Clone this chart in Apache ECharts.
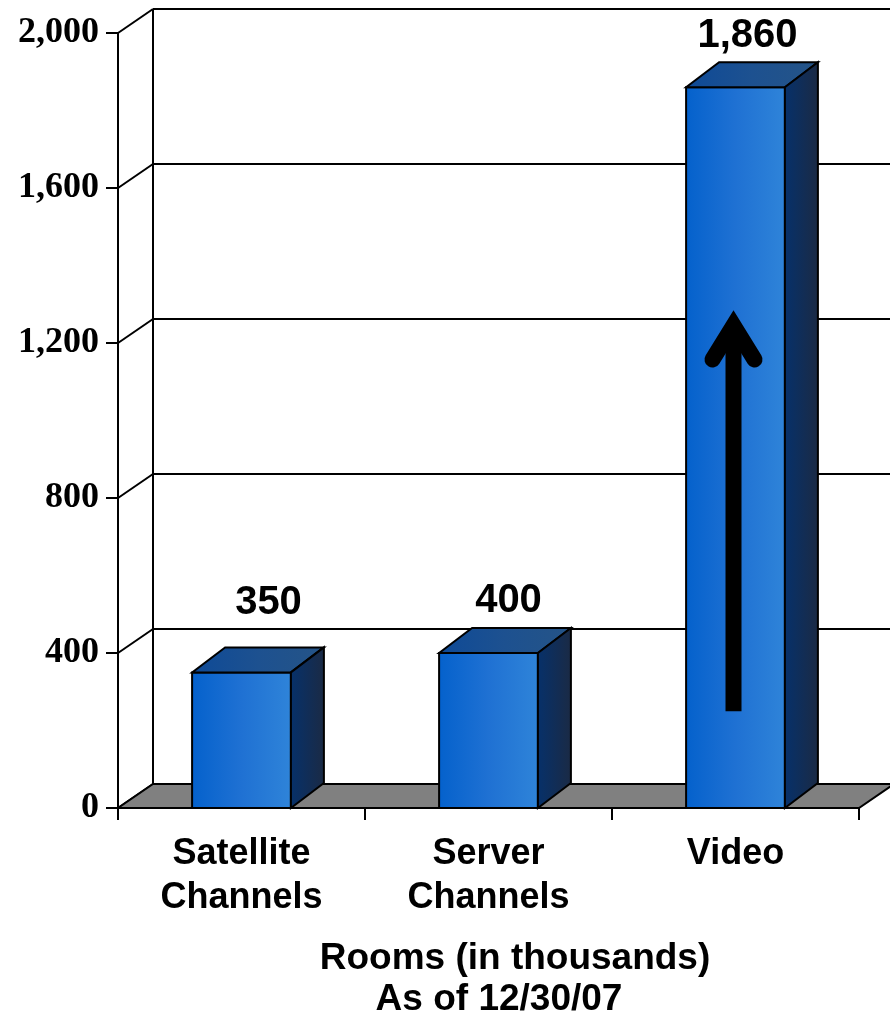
<!DOCTYPE html>
<html>
<head>
<meta charset="utf-8">
<script src="https://cdn.jsdelivr.net/npm/echarts@6/dist/echarts.min.js"></script>
<style>
  html, body { margin: 0; padding: 0; background: #ffffff; }
  #chart { width: 890px; height: 1016px; }
</style>
</head>
<body>
<div id="chart"></div>
<script>
// Rooms (in thousands) by channel, as of 12/30/07
const categories = ['Satellite\nChannels', 'Server\nChannels', 'Video'];
const rooms = [350, 400, 1860];
const valueLabels = ['350', '400', '1,860'];
const yTicks = [0, 400, 800, 1200, 1600, 2000];
// growth arrow drawn inside the Video column: [category index, from, to]
const arrowSpan = [2, 250, 1245];

// drawing constants
const FONT_SANS = '"Liberation Sans", Arial, sans-serif';
const FONT_SERIF = '"Liberation Serif", "Times New Roman", serif';
const WALL_DX = 35, WALL_DY = -24;   // depth of back wall / floor
const BAR_DX = 33, BAR_DY = -25;     // depth of the columns
const BAR_RATIO = 0.4;               // column width as share of category band
const LABEL_NUDGE = [[7, -16], [0, 1], [-8, 2]];

const grad = (c1, c2, c3) => ({
  type: 'linear', x: 0, y: 0, x2: 1, y2: 0,
  colorStops: c3
    ? [{ offset: 0, color: c1 }, { offset: 0.5, color: c2 }, { offset: 1, color: c3 }]
    : [{ offset: 0, color: c1 }, { offset: 1, color: c2 }]
});
const FRONT_FILL = grad('#0461CC', '#1F71D3', '#2F84D9');
const TOP_FILL = grad('#0E4A97', '#1D5190', '#255487');
const SIDE_FILL = grad('#06316B', '#1B2A44');
const EDGE = { stroke: '#000000', lineWidth: 2 };

const chart = echarts.init(document.getElementById('chart'), null, { renderer: 'canvas' });

function renderWalls(params, api) {
  const cs = params.coordSys;
  const x0 = cs.x, x1 = cs.x + cs.width;
  const yOf = v => api.coord([0, v])[1];
  const children = [];
  const yMax = yTicks[yTicks.length - 1];
  // back wall left edge
  children.push({
    type: 'line',
    shape: { x1: x0 + WALL_DX, y1: yOf(0) + WALL_DY, x2: x0 + WALL_DX, y2: yOf(yMax) + WALL_DY },
    style: EDGE
  });
  yTicks.forEach(v => {
    const y = yOf(v);
    children.push({
      type: 'line',
      shape: { x1: x0, y1: y, x2: x0 + WALL_DX, y2: y + WALL_DY },
      style: EDGE
    });
    children.push({
      type: 'line',
      shape: { x1: x0 + WALL_DX, y1: y + WALL_DY, x2: x1 + WALL_DX, y2: y + WALL_DY },
      style: EDGE
    });
  });
  // floor
  const yb = yOf(0);
  children.push({
    type: 'polygon',
    shape: { points: [[x0, yb], [x1, yb], [x1 + WALL_DX, yb + WALL_DY], [x0 + WALL_DX, yb + WALL_DY]] },
    style: { fill: '#808080', stroke: '#000000', lineWidth: 2 }
  });
  return { type: 'group', children };
}

function renderBar(params, api) {
  const idx = params.dataIndex;
  const cat = api.value(0);
  const v = api.value(1);
  const base = api.coord([cat, 0]);
  const top = api.coord([cat, v]);
  const band = api.size([1, 0])[0];
  const w = band * BAR_RATIO;
  const xl = base[0] - w / 2, xr = xl + w;
  const yb = base[1], yt = top[1];
  const nudge = LABEL_NUDGE[idx] || [0, 0];
  return {
    type: 'group',
    children: [
      {
        type: 'rect',
        shape: { x: xl, y: yt, width: w, height: yb - yt },
        style: Object.assign({ fill: FRONT_FILL }, EDGE)
      },
      {
        type: 'polygon',
        shape: { points: [[xl, yt], [xr, yt], [xr + BAR_DX, yt + BAR_DY], [xl + BAR_DX, yt + BAR_DY]] },
        style: Object.assign({ fill: TOP_FILL, lineJoin: 'miter' }, EDGE)
      },
      {
        type: 'polygon',
        shape: { points: [[xr, yt], [xr + BAR_DX, yt + BAR_DY], [xr + BAR_DX, yb + BAR_DY], [xr, yb]] },
        style: Object.assign({ fill: SIDE_FILL }, EDGE)
      },
      {
        type: 'text',
        x: base[0] + BAR_DX / 2 + 3.5 + nudge[0],
        y: yt + BAR_DY - 28 + nudge[1],
        style: {
          text: valueLabels[idx],
          font: 'bold 40px ' + FONT_SANS,
          fill: '#000000',
          align: 'center',
          verticalAlign: 'middle'
        }
      }
    ]
  };
}

function renderArrow(params, api) {
  const cat = api.value(0);
  const from = api.coord([cat, api.value(1)]);
  const to = api.coord([cat, api.value(2)]);
  const x = from[0] - 2;
  return {
    type: 'group',
    children: [
      {
        type: 'line',
        shape: { x1: x, y1: from[1], x2: x, y2: to[1] + 4 },
        style: { stroke: '#000000', lineWidth: 16, lineCap: 'butt' }
      },
      {
        type: 'polyline',
        shape: { points: [[x - 21, to[1] + 34], [x, to[1]], [x + 21, to[1] + 34]] },
        style: { stroke: '#000000', lineWidth: 16, lineCap: 'round', lineJoin: 'miter', fill: null }
      }
    ]
  };
}

const option = {
  backgroundColor: '#ffffff',
  animation: false,
  grid: { left: 118, right: 31, top: 33, bottom: 208, containLabel: false },
  xAxis: {
    type: 'category',
    data: categories,
    boundaryGap: true,
    axisLine: { show: true, lineStyle: { color: '#000000', width: 2 } },
    axisTick: { show: true, alignWithLabel: false, length: 12, interval: 0, lineStyle: { color: '#000000', width: 2 } },
    axisLabel: {
      interval: 0,
      margin: 24,
      color: '#000000',
      fontFamily: FONT_SANS,
      fontWeight: 'bold',
      fontSize: 36,
      lineHeight: 44
    },
    splitLine: { show: false }
  },
  yAxis: {
    type: 'value',
    min: yTicks[0],
    max: yTicks[yTicks.length - 1],
    interval: yTicks[1] - yTicks[0],
    axisLine: { show: true, lineStyle: { color: '#000000', width: 2 } },
    axisTick: { show: true, length: 12, lineStyle: { color: '#000000', width: 2 } },
    axisLabel: {
      margin: 19,
      color: '#000000',
      fontFamily: FONT_SERIF,
      fontWeight: 'bold',
      fontSize: 36,
      formatter: v => v.toLocaleString('en-US')
    },
    splitLine: { show: false }
  },
  graphic: [
    {
      type: 'text', x: 515, y: 959,
      style: { text: 'Rooms (in thousands)', font: 'bold 37px ' + FONT_SANS, fill: '#000000', align: 'center', verticalAlign: 'middle' }
    },
    {
      type: 'text', x: 499, y: 1000,
      style: { text: 'As of 12/30/07', font: 'bold 37px ' + FONT_SANS, fill: '#000000', align: 'center', verticalAlign: 'middle' }
    }
  ],
  series: [
    {
      type: 'custom',
      name: 'walls',
      z: 1,
      silent: true,
      renderItem: renderWalls,
      data: [[0, 0]],
      clip: false
    },
    {
      type: 'custom',
      name: 'Rooms',
      z: 3,
      renderItem: renderBar,
      encode: { x: 0, y: 1 },
      data: rooms.map((v, i) => [i, v]),
      clip: false
    },
    {
      type: 'custom',
      name: 'growth',
      z: 4,
      silent: true,
      renderItem: renderArrow,
      data: [arrowSpan],
      clip: false
    }
  ]
};

chart.setOption(option);
</script>
</body>
</html>
